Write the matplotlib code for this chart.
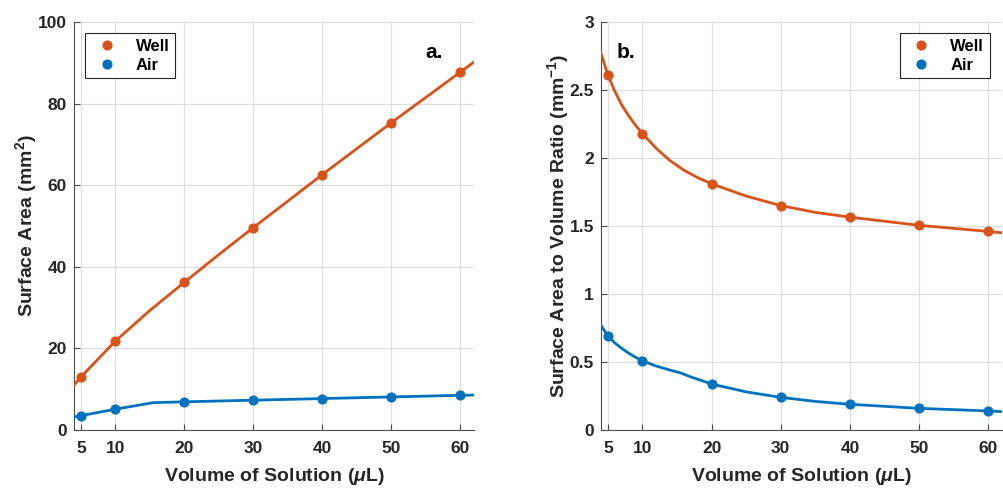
import matplotlib.pyplot as plt

plt.rcParams['font.family'] = ['Liberation Sans', 'DejaVu Sans']
plt.rcParams['font.weight'] = 'bold'
plt.rcParams['mathtext.fontset'] = 'custom'
plt.rcParams['mathtext.rm'] = 'Liberation Sans:bold'
plt.rcParams['mathtext.bf'] = 'Liberation Sans:bold'
plt.rcParams['mathtext.it'] = 'Liberation Sans:italic:bold'

WELL_COLOR = '#D95319'
AIR_COLOR = '#0072BD'
TEXT_COLOR = '#262626'

# measured volumes (uL)
volumes = [5, 10, 20, 30, 40, 50, 60]

# surface area (mm^2)
area_well = [13.0, 21.8, 36.2, 49.6, 62.6, 75.3, 87.7]
area_air = [3.5, 5.1, 6.9, 7.3, 7.7, 8.1, 8.5]

# surface area to volume ratio (mm^-1)
ratio_well = [2.61, 2.18, 1.81, 1.65, 1.565, 1.505, 1.46]
ratio_air = [0.693, 0.507, 0.338, 0.240, 0.189, 0.159, 0.140]

# fitted curves
fit_x_area = [4, 5, 10, 15, 20, 25, 30, 40, 50, 60, 62]
fit_area_well = [11.0, 13.0, 21.8, 29.3, 36.2, 43.0, 49.6, 62.6, 75.3, 87.7, 90.2]
fit_x_air = [4, 5, 10, 15.5, 20, 30, 40, 50, 60, 62]
fit_area_air = [3.2, 3.5, 5.1, 6.7, 6.9, 7.3, 7.7, 8.1, 8.5, 8.55]

fit_x_ratio = [4, 4.5, 5, 6, 7, 8, 9, 10, 12, 14, 16, 18, 20, 25, 30, 35, 40, 50, 60, 62]
fit_ratio_well = [2.77, 2.69, 2.61, 2.49, 2.39, 2.31, 2.24, 2.18, 2.07, 1.98, 1.91, 1.855,
                  1.81, 1.72, 1.65, 1.60, 1.565, 1.505, 1.46, 1.45]
fit_x_ratio_air = [4, 4.5, 5, 6, 7, 8, 9, 10, 12, 14, 15.5, 17, 20, 25, 30, 35, 40, 50, 60, 62]
fit_ratio_air = [0.77, 0.73, 0.693, 0.64, 0.60, 0.565, 0.535, 0.507, 0.47, 0.44, 0.42, 0.39,
                 0.338, 0.28, 0.240, 0.21, 0.189, 0.159, 0.140, 0.135]

xticks = [5, 10, 20, 30, 40, 50, 60]

fig = plt.figure(figsize=(10.04, 4.88), dpi=100)
ax1 = fig.add_axes([0.0737, 0.1189, 0.3984, 0.836])
ax2 = fig.add_axes([0.5986, 0.1189, 0.3994, 0.836])


def style_axes(ax):
    ax.set_xlim(4, 62)
    ax.set_xticks(xticks)
    ax.grid(True, color='#dcdcdc', linewidth=0.8)
    ax.set_axisbelow(True)
    for side in ['top', 'right']:
        ax.spines[side].set_visible(False)
    for side in ['left', 'bottom']:
        ax.spines[side].set_color('#4d4d4d')
        ax.spines[side].set_linewidth(0.8)
    ax.tick_params(direction='in', length=4, width=0.8, color='#4d4d4d',
                   labelsize=12.5, labelcolor=TEXT_COLOR)
    ax.tick_params(axis='x', pad=8)
    ax.tick_params(axis='y', pad=5)
    for lbl in ax.get_xticklabels() + ax.get_yticklabels():
        lbl.set_fontweight('bold')
    ax.set_xlabel(r'Volume of Solution ($\mu$L)', fontsize=14, fontweight='bold',
                  color=TEXT_COLOR, labelpad=7)


def add_legend(ax, loc, anchor):
    leg = ax.legend(loc=loc, bbox_to_anchor=anchor, borderaxespad=0, fontsize=12,
                    fancybox=False, edgecolor='#262626', framealpha=1,
                    handletextpad=0.8, handlelength=1.9, borderpad=0.35,
                    labelspacing=0.22)
    leg.get_frame().set_linewidth(0.8)
    for t in leg.get_texts():
        t.set_color('black')
    return leg


# a. surface area
ax1.plot(fit_x_area, fit_area_well, color=WELL_COLOR, lw=2, zorder=3)
ax1.plot(fit_x_air, fit_area_air, color=AIR_COLOR, lw=2, zorder=3)
ax1.plot(volumes, area_well, 'o', color=WELL_COLOR, ms=6.3, label='Well', zorder=4)
ax1.plot(volumes, area_air, 'o', color=AIR_COLOR, ms=6.3, label='Air', zorder=4)
ax1.set_ylim(0, 100)
ax1.set_yticks([0, 20, 40, 60, 80, 100])
style_axes(ax1)
ax1.set_ylabel(r'Surface Area (mm$^{2}$)', fontsize=14, fontweight='bold',
               color=TEXT_COLOR, labelpad=-1)
ax1.text(0.878, 0.926, 'a.', transform=ax1.transAxes, fontsize=15,
         fontweight='bold', va='center', ha='left')
add_legend(ax1, 'upper left', (0.0275, 0.973))

# b. surface area to volume ratio
ax2.plot(fit_x_ratio, fit_ratio_well, color=WELL_COLOR, lw=2, zorder=3)
ax2.plot(fit_x_ratio_air, fit_ratio_air, color=AIR_COLOR, lw=2, zorder=3)
ax2.plot(volumes, ratio_well, 'o', color=WELL_COLOR, ms=6.3, label='Well', zorder=4)
ax2.plot(volumes, ratio_air, 'o', color=AIR_COLOR, ms=6.3, label='Air', zorder=4)
ax2.set_ylim(0, 3)
ax2.set_yticks([0, 0.5, 1, 1.5, 2, 2.5, 3])
ax2.set_yticklabels(['0', '0.5', '1', '1.5', '2', '2.5', '3'])
style_axes(ax2)
ax2.set_ylabel(r'Surface Area to Volume Ratio (mm$^{-1}$)', fontsize=14,
               fontweight='bold', color=TEXT_COLOR, labelpad=-1)
ax2.text(0.04, 0.926, 'b.', transform=ax2.transAxes, fontsize=15,
         fontweight='bold', va='center', ha='left')
add_legend(ax2, 'upper right', (0.970, 0.973))

fig.savefig('out.png', dpi=100)
